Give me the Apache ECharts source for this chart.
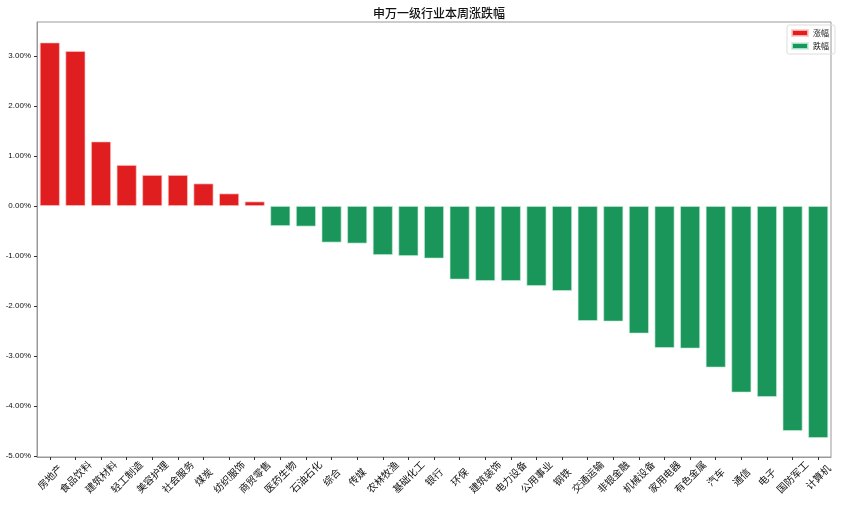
<!DOCTYPE html>
<html>
<head>
<meta charset="utf-8">
<script src="https://cdn.jsdelivr.net/npm/echarts@6/dist/echarts.min.js"></script>
<style>html,body{margin:0;padding:0;background:#fff}#c{width:842px;height:505px}</style>
</head>
<body>
<div id="c"></div>
<script>
var categories = ['房地产','食品饮料','建筑材料','轻工制造','美容护理','社会服务','煤炭','纺织服饰','商贸零售','医药生物','石油石化','综合','传媒','农林牧渔','基础化工','银行','环保','建筑装饰','电力设备','公用事业','钢铁','交通运输','非银金融','机械设备','家用电器','有色金属','汽车','通信','电子','国防军工','计算机'];
var values = [3.27,3.10,1.29,0.82,0.62,0.62,0.45,0.25,0.09,-0.40,-0.41,-0.73,-0.75,-0.98,-1.00,-1.05,-1.47,-1.50,-1.50,-1.60,-1.70,-2.30,-2.31,-2.55,-2.84,-2.85,-3.23,-3.73,-3.82,-4.50,-4.64];
var yTicks = [-5,-4,-3,-2,-1,0,1,2,3];
var seriesNames = ['涨幅','跌幅'];

var upData = values.map(function(v){ return v >= 0 ? v : null; });
var downData = values.map(function(v){ return v < 0 ? v : null; });
var font = '"Noto Sans CJK SC", "DejaVu Sans", sans-serif';

var chart = echarts.init(document.getElementById('c'), null, {renderer:'canvas'});
chart.setOption({
  animation: false,
  textStyle: {fontFamily: font},
  title: {
    text: '申万一级行业本周涨跌幅',
    left: 434, top: 2, textAlign: 'center',
    textStyle: {fontSize: 12, fontWeight: 500, color: '#111', fontFamily: font}
  },
  legend: {
    data: seriesNames,
    right: 7, top: 25, orient: 'vertical',
    itemWidth: 16, itemHeight: 6, itemGap: 5,
    padding: [4, 6, 4, 4],
    borderColor: '#ddd', borderWidth: 1, borderRadius: 2,
    textStyle: {fontSize: 8, color: '#222', fontFamily: font},
    icon: 'rect'
  },
  grid: {left: 37, right: 11, top: 22, bottom: 48, show: true, borderColor: '#999', borderWidth: 1},
  xAxis: {
    type: 'category',
    data: categories,
    boundaryGap: true,
    axisLine: {show: true, onZero: false, lineStyle: {color: '#999'}},
    axisTick: {show: true, alignWithLabel: true, length: 3, inside: false, lineStyle: {color: '#333'}},
    axisLabel: {
      interval: 0, rotate: 45, align: 'center', verticalAlign: 'middle',
      margin: 20, fontSize: 10, color: '#111', fontFamily: font
    },
    splitLine: {show: false}
  },
  yAxis: {
    type: 'value',
    min: -5.02, max: 3.68,
    axisLine: {show: true, lineStyle: {color: '#999'}},
    axisTick: {show: true, length: 3, lineStyle: {color: '#333'}, customValues: yTicks},
    axisLabel: {
      fontSize: 8, color: '#111', margin: 6, fontFamily: '"Liberation Sans Narrow", "Liberation Sans", sans-serif',
      customValues: yTicks,
      formatter: function(v){ return v.toFixed(2) + '%'; }
    },
    splitLine: {show: false}
  },
  series: [
    {
      name: seriesNames[0], type: 'bar', data: upData, barWidth: '78%', barGap: '-100%',
      itemStyle: {color: '#e01e1f', borderColor: 'rgba(255,200,200,0.8)', borderWidth: 0.8}
    },
    {
      name: seriesNames[1], type: 'bar', data: downData, barWidth: '78%', barGap: '-100%',
      itemStyle: {color: '#1b965a', borderColor: 'rgba(200,240,220,0.8)', borderWidth: 0.8}
    }
  ]
});
</script>
</body>
</html>
